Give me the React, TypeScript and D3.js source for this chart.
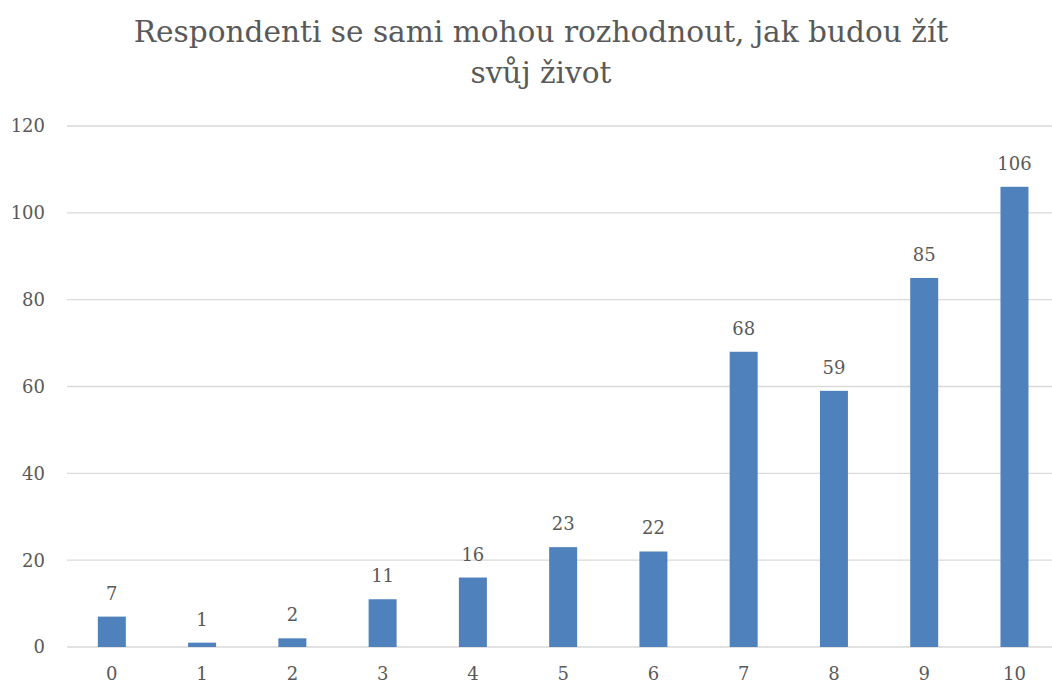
import React from "react";
import * as d3 from "d3";

const categories = ["0", "1", "2", "3", "4", "5", "6", "7", "8", "9", "10"];
const counts = [7, 1, 2, 11, 16, 23, 22, 68, 59, 85, 106];
const yTicks = [0, 20, 40, 60, 80, 100, 120];
const titleLines = ["Respondenti se sami mohou rozhodnout, jak budou žít", "svůj život"];

const W = 1052;
const H = 684;
const FONT = "'DejaVu Serif', serif";
const TEXT = "#595959";

export default function App() {
  const x = d3
    .scaleBand<string>()
    .domain(categories)
    .range([66.7, 1059.6])
    .paddingInner(0.69)
    .paddingOuter(0.345);
  const y = d3.scaleLinear().domain([0, 120]).range([647, 126]);

  return (
    <svg
      width={W}
      height={H}
      style={{ position: "absolute", left: 0, top: 0, background: "#fff", fontFamily: FONT }}
    >
      {titleLines.map((t, i) => (
        <text
          key={i}
          x={541}
          y={42 + i * 41}
          textAnchor="middle"
          fontSize={29.6}
          fill={TEXT}
        >
          {t}
        </text>
      ))}
      {yTicks.map((t) => (
        <g key={t}>
          <line x1={67} x2={W} y1={y(t)} y2={y(t)} stroke="#d9d9d9" strokeWidth={1.3} />
          <text x={45} y={y(t)} dy="0.36em" textAnchor="end" fontSize={18} fill={TEXT}>
            {t}
          </text>
        </g>
      ))}
      {categories.map((c, i) => {
        const bx = x(c)!;
        const bw = x.bandwidth();
        return (
          <g key={c}>
            <rect x={bx} y={y(counts[i])} width={bw} height={y(0) - y(counts[i])} fill="#4f81bd" />
            <text
              x={bx + bw / 2}
              y={y(counts[i]) - 17}
              textAnchor="middle"
              fontSize={18}
              fill={TEXT}
            >
              {counts[i]}
            </text>
            <text x={bx + bw / 2} y={680} textAnchor="middle" fontSize={18} fill={TEXT}>
              {c}
            </text>
          </g>
        );
      })}
    </svg>
  );
}
